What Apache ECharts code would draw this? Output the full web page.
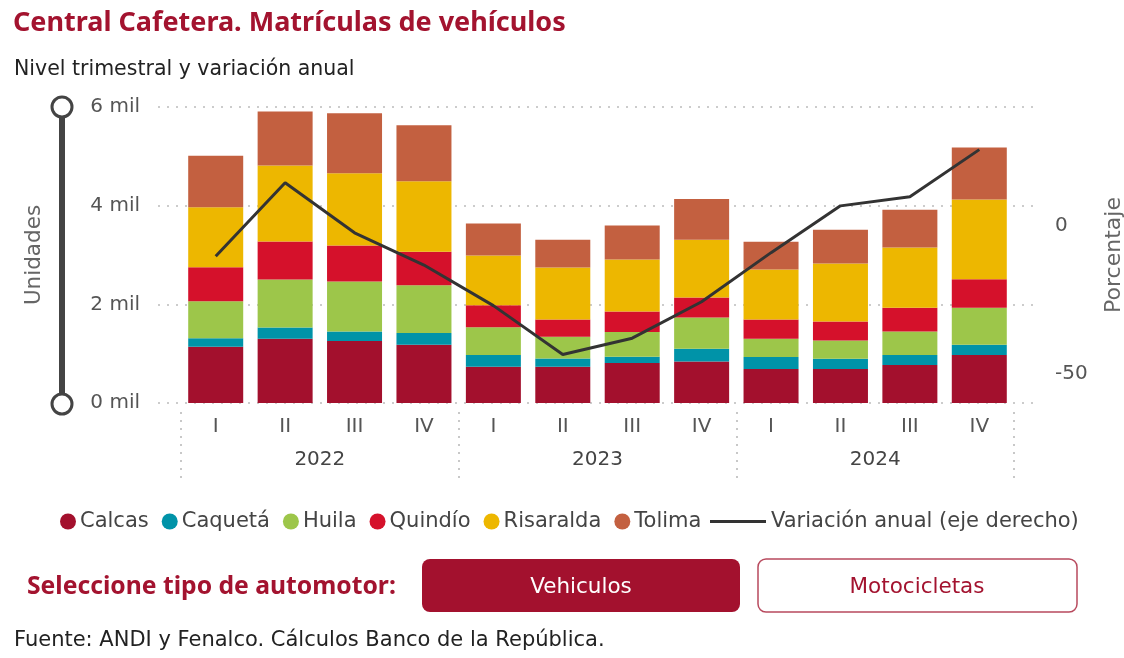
<!DOCTYPE html>
<html>
<head>
<meta charset="utf-8">
<script src="https://cdn.jsdelivr.net/npm/echarts@6/dist/echarts.min.js"></script>
<style>
  html, body { margin: 0; padding: 0; background: #fff; }
  #main { width: 1124px; height: 658px; }
</style>
</head>
<body>
<div id="main"></div>
<script>
  var FONT = 'DejaVu Sans';
  var RED = '#A3132F';

  // trimestres y años
  var quarters = ['I', 'II', 'III', 'IV', 'I', 'II', 'III', 'IV', 'I', 'II', 'III', 'IV'];
  var years = ['2022', '2023', '2024'];

  // matrículas por departamento (unidades)
  var calcas = [1140, 1300, 1257, 1180, 736, 736, 811, 843, 689, 689, 770, 973];
  var caqueta = [170, 230, 194, 240, 237, 168, 128, 258, 243, 209, 203, 209];
  var huila = [750, 973, 1014, 965, 560, 440, 500, 634, 371, 371, 478, 750];
  var quindio = [690, 770, 730, 683, 446, 351, 418, 406, 392, 385, 481, 574];
  var risaralda = [1217, 1540, 1460, 1425, 1013, 1054, 1054, 1169, 1013, 1176, 1222, 1621];
  var tolima = [1047, 1094, 1217, 1136, 649, 561, 689, 825, 562, 683, 764, 1054];

  // variación anual (%)
  var variacion = [-10.4, 14.4, -2.5, -13.4, -27.1, -43.6, -38.1, -25.8, -9.2, 6.6, 9.7, 25.6];

  var names = ['Calcas', 'Caquetá', 'Huila', 'Quindío', 'Risaralda', 'Tolima'];
  var colors = ['#A3102D', '#0093A8', '#9DC64A', '#D5112B', '#EDB700', '#C36040'];
  var values = [calcas, caqueta, huila, quindio, risaralda, tolima];
  var lineName = 'Variación anual (eje derecho)';

  var series = [];
  for (var i = 0; i < names.length; i++) {
    series.push({
      name: names[i],
      type: 'bar',
      stack: 'total',
      xAxisIndex: 1,
      yAxisIndex: 1,
      barWidth: 55,
      itemStyle: { color: colors[i] },
      data: values[i]
    });
  }
  series.push({
    name: lineName,
    type: 'line',
    xAxisIndex: 1,
    yAxisIndex: 2,
    symbol: 'none',
    lineStyle: { color: '#333', width: 3 },
    itemStyle: { color: '#333' },
    z: 5,
    data: variacion
  });

  var option = {
    animation: false,
    textStyle: { fontFamily: FONT },
    grid: [
      { left: 158, right: 89, top: 107, height: 296, outerBoundsMode: 'none' },   // solo líneas guía
      { left: 181, right: 110, top: 107, height: 296, outerBoundsMode: 'none' }
    ],
    legend: [{
      data: names,
      left: 60,
      top: 511,
      padding: 0,
      icon: 'circle',
      itemWidth: 16,
      itemHeight: 16,
      itemGap: 13,
      textStyle: { fontFamily: FONT, fontSize: 21, color: '#444', padding: [0, 0, 0, -1] }
    }, {
      data: [lineName],
      left: 710,
      top: 511,
      padding: 0,
      icon: 'rect',
      itemWidth: 56,
      itemHeight: 3,
      textStyle: { fontFamily: FONT, fontSize: 21, color: '#444' }
    }],
    xAxis: [{
      gridIndex: 0,
      type: 'value',
      show: false
    }, {
      gridIndex: 1,
      type: 'category',
      data: quarters,
      axisLine: { show: false },
      axisTick: { show: false },
      axisLabel: { margin: 14, fontSize: 20, color: '#555', fontFamily: FONT }
    }, {
      gridIndex: 1,
      type: 'category',
      data: years,
      position: 'bottom',
      offset: 9,
      axisLine: { show: true, onZero: false, lineStyle: { color: 'rgba(0,0,0,0)' } },
      axisTick: {
        show: true,
        interval: 0,
        length: 66,
        lineStyle: { color: '#c8c8c8', type: [2, 6], width: 2 }
      },
      axisLabel: { margin: 38, fontSize: 20, color: '#444', fontFamily: FONT }
    }],
    yAxis: [{
      gridIndex: 0,
      type: 'value',
      min: 0,
      max: 6000,
      interval: 2000,
      name: 'Unidades',
      nameLocation: 'middle',
      nameGap: 113,
      nameTextStyle: { fontSize: 21.5, color: '#666', fontFamily: FONT },
      axisLine: { show: false },
      axisTick: { show: false },
      axisLabel: {
        margin: 18,
        fontSize: 20,
        color: '#555',
        fontFamily: FONT,
        formatter: function (v) { return (v / 1000) + ' mil'; }
      },
      splitLine: { lineStyle: { color: '#ccc', type: [2, 7], width: 2 } }
    }, {
      gridIndex: 1,
      type: 'value',
      min: 0,
      max: 6000,
      show: false
    }, {
      gridIndex: 1,
      type: 'value',
      position: 'right',
      min: -60,
      max: 40,
      interval: 10,
      name: 'Porcentaje',
      nameLocation: 'middle',
      nameRotate: 90,
      nameGap: 89,
      nameTextStyle: { fontSize: 22, color: '#666', fontFamily: FONT },
      axisLine: { show: false },
      axisTick: { show: false },
      splitLine: { show: false },
      axisLabel: {
        margin: 41,
        fontSize: 20,
        color: '#555',
        fontFamily: FONT,
        formatter: function (v) { return (v === 0 || v === -50) ? String(v) : ''; }
      }
    }],
    series: series,
    graphic: [
      { type: 'text', left: 13, top: 10, style: { text: 'Central Cafetera. Matrículas de vehículos', font: 'bold 27px "Noto Sans"', fill: RED } },
      { type: 'text', left: 14, top: 59, style: { text: 'Nivel trimestral y variación anual', font: '20.5px "DejaVu Sans"', fill: '#222' } },
      // deslizador decorativo del eje
      { type: 'line', shape: { x1: 62, y1: 107, x2: 62, y2: 404 }, style: { stroke: '#444', lineWidth: 6 } },
      { type: 'circle', shape: { cx: 62, cy: 107, r: 10 }, style: { fill: '#fff', stroke: '#444', lineWidth: 3 } },
      { type: 'circle', shape: { cx: 62, cy: 404, r: 10 }, style: { fill: '#fff', stroke: '#444', lineWidth: 3 } },
      // botones
      { type: 'text', left: 27, top: 574, style: { text: 'Seleccione tipo de automotor:', font: 'bold 24.7px "Noto Sans"', fill: RED } },
      { type: 'rect', shape: { x: 422, y: 559, width: 318, height: 53, r: 8 }, style: { fill: '#A3112E' } },
      { type: 'text', x: 581, y: 587, style: { text: 'Vehiculos', font: '21.5px "DejaVu Sans"', fill: '#fff', align: 'center', verticalAlign: 'middle' } },
      { type: 'rect', shape: { x: 758, y: 559, width: 319, height: 53, r: 8 }, style: { fill: '#fff', stroke: '#B84A5E', lineWidth: 1.5 } },
      { type: 'text', x: 917, y: 587, style: { text: 'Motocicletas', font: '21.5px "DejaVu Sans"', fill: RED, align: 'center', verticalAlign: 'middle' } },
      { type: 'text', left: 14, top: 630, style: { text: 'Fuente: ANDI y Fenalco. Cálculos Banco de la República.', font: '21px "DejaVu Sans"', fill: '#222' } }
    ]
  };

  var myChart = echarts.init(document.getElementById('main'));
  myChart.setOption(option);
</script>
</body>
</html>
